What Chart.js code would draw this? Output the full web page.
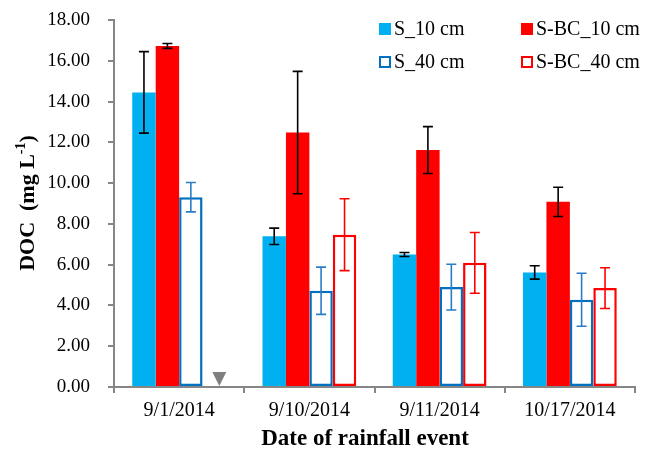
<!DOCTYPE html>
<html>
<head>
<meta charset="utf-8">
<script src="https://cdn.jsdelivr.net/npm/chart.js@4.4.1/dist/chart.umd.min.js"></script>
<style>
  html, body { margin: 0; padding: 0; background: #fff; }
  #wrap { width: 654px; height: 451px; }
</style>
</head>
<body>
<div id="wrap"><canvas id="docChart" width="654" height="451"></canvas></div>
<script>
// datos
const categories = ['9/1/2014', '9/10/2014', '9/11/2014', '10/17/2014'];
const seriesNames = ['S_10 cm', 'S-BC_10 cm', 'S_40 cm', 'S-BC_40 cm'];
const s10 = [14.45, 7.39, 6.50, 5.62];
const s10Err = [2.00, 0.40, 0.10, 0.33];
const sbc10 = [16.73, 12.48, 11.62, 9.08];
const sbc10Err = [0.12, 3.00, 1.15, 0.72];
const s40 = [9.31, 4.72, 4.90, 4.28];
const s40Err = [0.72, 1.16, 1.12, 1.30];
const sbc40 = [null, 7.47, 6.09, 4.85];
const sbc40Err = [0, 1.76, 1.49, 1.00];
const yTicks = [0, 2, 4, 6, 8, 10, 12, 14, 16, 18];

const CYAN = '#00B0F0';
const RED = '#FF0000';
const BLUE = '#0070C0';
const AXIS = '#868686';
const serif = '"Liberation Serif", "Times New Roman", serif';

const errors = [s10Err, sbc10Err, s40Err, sbc40Err];
const errColors = ['#000000', '#000000', '#2A7CC6', '#FF0000'];

// barras de error, triangulo y leyenda
const extrasPlugin = {
  id: 'extras',
  afterDatasetsDraw(chart) {
    const ctx = chart.ctx;
    const y = chart.scales.y;
    chart.data.datasets.forEach((ds, i) => {
      const meta = chart.getDatasetMeta(i);
      meta.data.forEach((bar, j) => {
        const v = ds.data[j];
        const e = errors[i][j];
        if (v == null || !e) return;
        const top = y.getPixelForValue(v + e);
        const bot = y.getPixelForValue(v - e);
        ctx.save();
        ctx.strokeStyle = errColors[i];
        ctx.lineWidth = 1.6;
        ctx.beginPath();
        ctx.moveTo(bar.x, top); ctx.lineTo(bar.x, bot);
        ctx.moveTo(bar.x - 5, top); ctx.lineTo(bar.x + 5, top);
        ctx.moveTo(bar.x - 5, bot); ctx.lineTo(bar.x + 5, bot);
        ctx.stroke();
        ctx.restore();
      });
    });

    // no detectado: triangulo gris
    const ref = chart.getDatasetMeta(2).data[0];
    const tx = ref.x + ref.width + 5;
    const y0 = y.getPixelForValue(0);
    ctx.save();
    ctx.fillStyle = '#808080';
    ctx.beginPath();
    ctx.moveTo(tx - 7, y0 - 15);
    ctx.lineTo(tx + 7, y0 - 15);
    ctx.lineTo(tx, y0 - 1);
    ctx.closePath();
    ctx.fill();
    ctx.restore();
  },
  afterDraw(chart) {
    const ctx = chart.ctx;
    // leyenda 2x2
    const items = [
      { x: 379, y: 23, fill: CYAN, stroke: null },
      { x: 521, y: 23, fill: RED, stroke: null },
      { x: 379, y: 56, fill: '#fff', stroke: BLUE },
      { x: 521, y: 56, fill: '#fff', stroke: RED }
    ];
    ctx.save();
    ctx.font = '20px ' + serif;
    ctx.textBaseline = 'middle';
    ctx.fillStyle = '#000';
    items.forEach((it, i) => {
      if (it.stroke) {
        ctx.strokeStyle = it.stroke;
        ctx.lineWidth = 2;
        ctx.strokeRect(it.x + 1, it.y + 1, 10, 10);
      } else {
        ctx.fillStyle = it.fill;
        ctx.fillRect(it.x, it.y, 12, 12);
      }
      ctx.fillStyle = '#000';
      ctx.fillText(seriesNames[i], it.x + 15, it.y + 7);
    });

    // titulo eje y con superindice
    ctx.translate(26, 203);
    ctx.rotate(-Math.PI / 2);
    const main = 'DOC  (mg L';
    const sup = '-1';
    const close = ')';
    ctx.font = 'bold 22px ' + serif;
    const w1 = ctx.measureText(main).width;
    const w3 = ctx.measureText(close).width;
    ctx.font = 'bold 14px ' + serif;
    const w2 = ctx.measureText(sup).width;
    const x0 = -(w1 + w2 + w3) / 2;
    ctx.textAlign = 'left';
    ctx.textBaseline = 'alphabetic';
    ctx.font = 'bold 22px ' + serif;
    ctx.fillText(main, x0, 8);
    ctx.font = 'bold 14px ' + serif;
    ctx.fillText(sup, x0 + w1, -1);
    ctx.font = 'bold 22px ' + serif;
    ctx.fillText(close, x0 + w1 + w2, 8);
    ctx.restore();

    // titulo eje x
    ctx.save();
    ctx.font = 'bold 23px ' + serif;
    ctx.textAlign = 'center';
    ctx.textBaseline = 'middle';
    ctx.fillStyle = '#000';
    ctx.fillText('Date of rainfall event', 365, 439);
    ctx.restore();
  }
};

new Chart(document.getElementById('docChart').getContext('2d'), {
  type: 'bar',
  data: {
    labels: categories,
    datasets: [
      { label: seriesNames[0], data: s10, backgroundColor: CYAN, borderWidth: 0 },
      { label: seriesNames[1], data: sbc10, backgroundColor: RED, borderWidth: 0 },
      { label: seriesNames[2], data: s40, backgroundColor: '#FFFFFF', borderColor: BLUE, borderWidth: 2.5, borderSkipped: false },
      { label: seriesNames[3], data: sbc40, backgroundColor: '#FFFFFF', borderColor: RED, borderWidth: 2.5, borderSkipped: false }
    ]
  },
  options: {
    responsive: false,
    animation: false,
    devicePixelRatio: 1,
    layout: { padding: { top: 20, right: 19, left: 0, bottom: 0 } },
    datasets: { bar: { barPercentage: 1.0, categoryPercentage: 0.72 } },
    plugins: {
      legend: { display: false },
      tooltip: { enabled: false }
    },
    scales: {
      x: {
        grid: { display: true, drawOnChartArea: false, drawTicks: true, tickLength: 6, tickColor: AXIS, lineWidth: 2, offset: true },
        border: { color: AXIS, width: 2 },
        ticks: { color: '#000', font: { family: serif, size: 20 }, padding: 6, maxRotation: 0 },
        afterFit(scale) { scale.height = 64; scale.paddingLeft = 0; scale.paddingRight = 0; }
      },
      y: {
        min: 0,
        max: 18,
        afterBuildTicks(scale) { scale.ticks = yTicks.map(v => ({ value: v })); },
        grid: { display: true, drawOnChartArea: false, drawTicks: true, tickLength: 6, tickColor: AXIS, lineWidth: 2 },
        border: { color: AXIS, width: 2 },
        ticks: { color: '#000', font: { family: serif, size: 19 }, padding: 18, callback: v => v.toFixed(2) },
        afterFit(scale) { scale.width = 114; scale.paddingTop = 0; scale.paddingBottom = 0; }
      }
    }
  },
  plugins: [extrasPlugin]
});
</script>
</body>
</html>
